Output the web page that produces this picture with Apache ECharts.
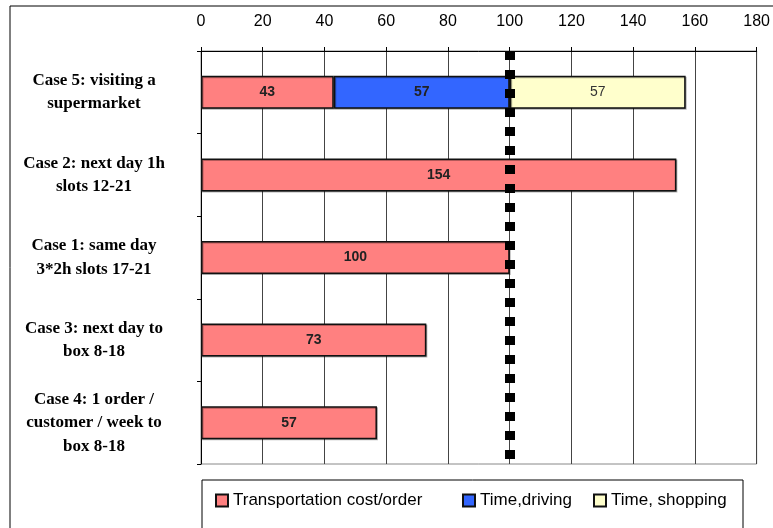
<!DOCTYPE html>
<html><head><meta charset="utf-8">
<script src="https://cdn.jsdelivr.net/npm/echarts@6/dist/echarts.min.js"></script>
<style>html,body{margin:0;padding:0;background:#fff}#c{width:773px;height:528px}</style>
</head><body><div id="c"></div>
<script>
const categories = ['Case 5: visiting a\nsupermarket', 'Case 2: next day 1h\nslots 12-21', 'Case 1: same day\n3*2h slots 17-21', 'Case 3: next day to\nbox 8-18', 'Case 4: 1 order /\ncustomer / week to\nbox 8-18'];
const transportCost = [43, 154, 100, 73, 57];
const timeDriving = [57, null, null, null, null];
const timeShopping = [57, null, null, null, null];
const seriesNames = ['Transportation cost/order', 'Time,driving', 'Time, shopping'];
const xTicks = {min: 0, max: 180, interval: 20};
const referenceValue = 100;

const chart = echarts.init(document.getElementById('c'), null, {renderer: 'canvas'});
const border = {borderColor: '#111', borderWidth: 1.5, shadowColor: 'rgba(0,0,0,0.3)', shadowOffsetX: 1, shadowOffsetY: 1, shadowBlur: 0};
const lbl = {show: true, position: 'inside', fontFamily: 'Liberation Sans, Arial', fontSize: 14, fontWeight: 'bold', color: '#222'};
const legendText = {fontFamily: 'Liberation Sans, Arial', fontSize: 17, color: '#000'};
const legendLefts = [215, 462, 593];
chart.setOption({
  animation: false,
  graphic: [
    {type: 'rect', shape: {x: 10, y: 6, width: 800, height: 600}, style: {fill: 'none', stroke: '#000', lineWidth: 1}, z: -10},
    {type: 'rect', shape: {x: 202, y: 480, width: 541, height: 80}, style: {fill: 'none', stroke: '#000', lineWidth: 1}, z: -10}
  ],
  grid: {left: 201, right: 15, top: 51, bottom: 64, show: true, borderColor: '#888', borderWidth: 1},
  legend: seriesNames.map((n, i) => ({
    left: legendLefts[i], top: 492, padding: 0, itemWidth: 12, itemHeight: 12, icon: 'rect',
    textStyle: legendText, data: [n]
  })),
  xAxis: {
    type: 'value', position: 'top', min: xTicks.min, max: xTicks.max, interval: xTicks.interval,
    axisLine: {show: true, lineStyle: {color: '#000', width: 1}},
    axisTick: {show: true, length: 4, lineStyle: {color: '#000'}},
    axisLabel: {margin: 21, fontFamily: 'Liberation Sans, Arial', fontSize: 16, color: '#000'},
    splitLine: {show: true, lineStyle: {color: '#444', width: 1}}
  },
  yAxis: {
    type: 'category', inverse: true, data: categories,
    axisLine: {show: true, lineStyle: {color: '#000', width: 1}},
    axisTick: {show: true, length: 4, lineStyle: {color: '#000'}},
    axisLabel: {margin: 107, align: 'center', fontFamily: 'Liberation Serif, Times New Roman', fontWeight: 'bold', fontSize: 17, lineHeight: 23.5, color: '#000'},
    splitLine: {show: false}
  },
  series: [
    {name: seriesNames[0], type: 'bar', stack: 's', barWidth: 33, data: transportCost,
     itemStyle: Object.assign({color: '#FF8080'}, border), label: lbl,
     markLine: {silent: true, symbol: 'none', label: {show: false},
       lineStyle: {color: '#000', width: 10, type: [9, 10], opacity: 1},
       data: [{xAxis: referenceValue}]}},
    {name: seriesNames[1], type: 'bar', stack: 's', barWidth: 33, data: timeDriving,
     itemStyle: Object.assign({color: '#3366FF'}, border), label: lbl},
    {name: seriesNames[2], type: 'bar', stack: 's', barWidth: 33, data: timeShopping,
     itemStyle: Object.assign({color: '#FFFFCC'}, border), label: Object.assign({}, lbl, {fontWeight: 'normal', color: '#333'})}
  ]
});
</script></body></html>
